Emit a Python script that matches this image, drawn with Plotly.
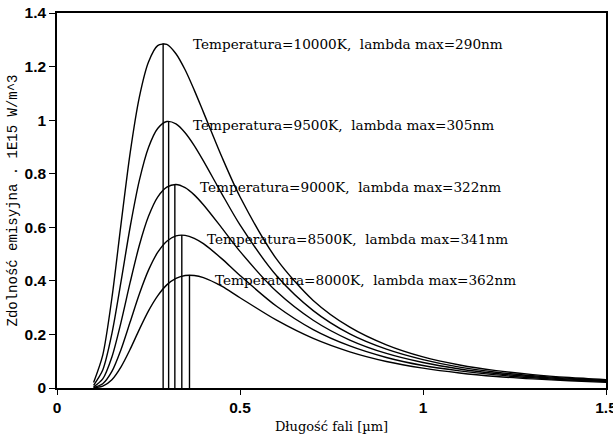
import plotly.graph_objects as go

# wavelength samples [µm]
wavelength = [0.1, 0.125, 0.15, 0.175, 0.2, 0.225, 0.25, 0.275, 0.3, 0.325, 0.35, 0.375, 0.4,
              0.45, 0.5, 0.6, 0.7, 0.8, 0.9, 1.0, 1.1, 1.2, 1.3, 1.4, 1.5]

temperatures = [10000, 9500, 9000, 8500, 8000]

emission_10000 = [0.021, 0.123, 0.336, 0.613, 0.879, 1.086, 1.217, 1.278, 1.283, 1.248, 1.188, 1.112, 1.030,
                  0.864, 0.714, 0.481, 0.327, 0.227, 0.161, 0.116, 0.086, 0.065, 0.050, 0.039, 0.031]
emission_9500 = [0.010, 0.067, 0.203, 0.398, 0.602, 0.775, 0.898, 0.969, 0.995, 0.986, 0.953, 0.905, 0.848,
                 0.726, 0.609, 0.419, 0.289, 0.202, 0.145, 0.106, 0.078, 0.059, 0.046, 0.036, 0.028]
emission_9000 = [0.004, 0.034, 0.116, 0.246, 0.395, 0.533, 0.641, 0.713, 0.750, 0.760, 0.748, 0.721, 0.684,
                 0.598, 0.510, 0.360, 0.253, 0.179, 0.129, 0.095, 0.071, 0.054, 0.042, 0.033, 0.026]
emission_8500 = [0.002, 0.016, 0.062, 0.144, 0.247, 0.351, 0.440, 0.506, 0.548, 0.568, 0.570, 0.559, 0.539,
                 0.483, 0.420, 0.305, 0.218, 0.157, 0.114, 0.084, 0.064, 0.049, 0.038, 0.030, 0.024]
emission_8000 = [0.001, 0.007, 0.031, 0.079, 0.145, 0.219, 0.288, 0.344, 0.385, 0.409, 0.420, 0.420, 0.412,
                 0.380, 0.337, 0.253, 0.185, 0.135, 0.099, 0.074, 0.056, 0.043, 0.034, 0.027, 0.021]

series = [emission_10000, emission_9500, emission_9000, emission_8500, emission_8000]

lambda_max = [0.290, 0.305, 0.322, 0.341, 0.362]
peak_value = [1.287, 0.996, 0.760, 0.571, 0.422]

labels = ["Temperatura=10000K,  lambda max=290nm",
          "Temperatura=9500K,  lambda max=305nm",
          "Temperatura=9000K,  lambda max=322nm",
          "Temperatura=8500K,  lambda max=341nm",
          "Temperatura=8000K,  lambda max=362nm"]
label_x = [0.366, 0.366, 0.385, 0.404, 0.426]
label_y = [1.284, 0.981, 0.750, 0.556, 0.403]

fig = go.Figure()

for vals in series:
    fig.add_trace(go.Scatter(x=wavelength, y=vals, mode="lines",
                             line=dict(color="black", width=1.4, shape="spline", smoothing=0.8),
                             showlegend=False, hoverinfo="skip"))

for lm, pk in zip(lambda_max, peak_value):
    fig.add_trace(go.Scatter(x=[lm, lm], y=[0, pk], mode="lines",
                             line=dict(color="black", width=1.4),
                             showlegend=False, hoverinfo="skip"))

for txt, lx, ly in zip(labels, label_x, label_y):
    fig.add_annotation(x=lx, y=ly, text=txt, showarrow=False, xanchor="left", yanchor="middle",
                       font=dict(family="DejaVu Serif", size=13.6, color="black"))

tickfont = dict(family="Liberation Sans", size=15.5, color="black", weight="bold")

fig.update_layout(
    width=613, height=434,
    margin=dict(l=57, r=7, t=13, b=46),
    paper_bgcolor="white", plot_bgcolor="white",
    xaxis=dict(range=[0, 1.5], tickvals=[0, 0.5, 1, 1.5], ticktext=["0", "0.5", "1", "1.5"],
               showgrid=False, zeroline=False, showline=True, linecolor="black", linewidth=1.5,
               mirror=True, ticks="outside", ticklen=5, tickcolor="black", tickwidth=1.2,
               tickfont=tickfont, ticklabeloverflow="allow", automargin=False,
               title=dict(text="Długość fali [µm]", standoff=8,
                          font=dict(family="DejaVu Serif", size=13, color="black"))),
    yaxis=dict(range=[0, 1.4], tickvals=[0, 0.2, 0.4, 0.6, 0.8, 1, 1.2, 1.4],
               ticktext=["0", "0.2", "0.4", "0.6", "0.8", "1", "1.2", "1.4"],
               showgrid=False, zeroline=False, showline=True, linecolor="black", linewidth=1.5,
               mirror=True, ticks="outside", ticklen=6, tickcolor="black", tickwidth=1.2,
               tickfont=tickfont, ticklabelstandoff=0, automargin=False,
               title=dict(text="Zdolność emisyjna . 1E15 W/m^3", standoff=4,
                          font=dict(family="Liberation Mono", size=14, color="black"))),
)

fig.write_html("out.html")
